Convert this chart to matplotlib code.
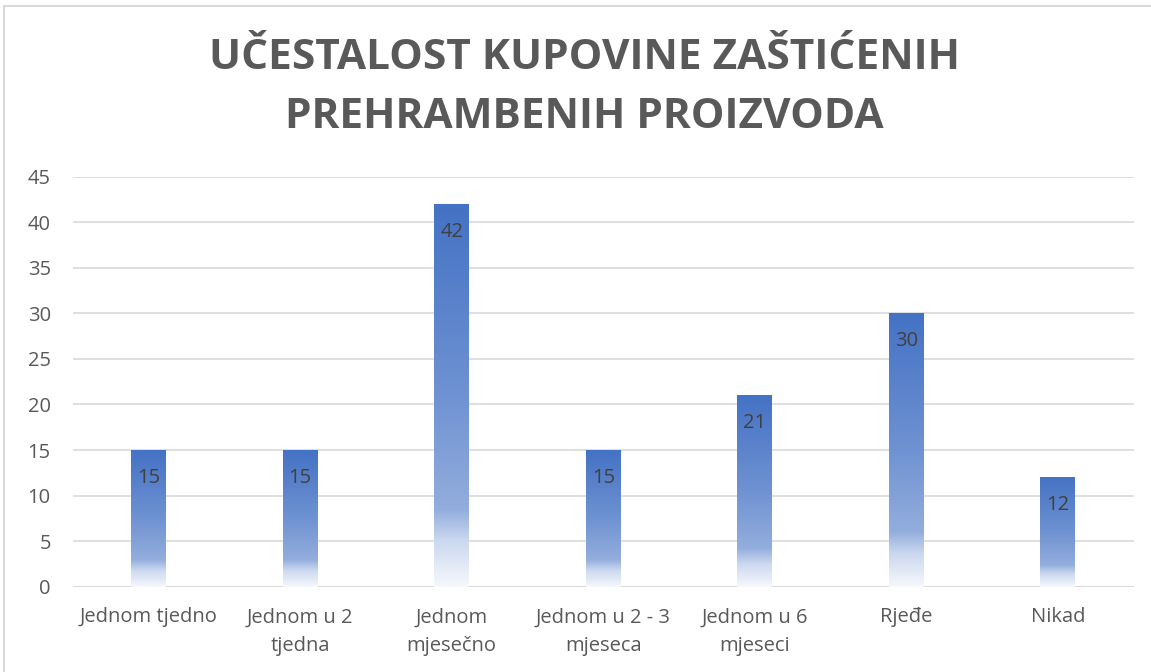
import matplotlib.pyplot as plt
import numpy as np
from matplotlib.colors import LinearSegmentedColormap
from matplotlib.patches import Rectangle

categories = ['Jednom tjedno', 'Jednom u 2\ntjedna', 'Jednom\nmjesečno', 'Jednom u 2 - 3\nmjeseca',
              'Jednom u 6\nmjeseci', 'Rjeđe', 'Nikad']
values = [15, 15, 42, 15, 21, 30, 12]
yticks = [0, 5, 10, 15, 20, 25, 30, 35, 40, 45]
title = 'UČESTALOST KUPOVINE ZAŠTIĆENIH\nPREHRAMBENIH PROIZVODA'

plt.rcParams['font.family'] = ['Open Sans', 'DejaVu Sans']

# gradient: bottom (0) -> top (1)
grad = LinearSegmentedColormap.from_list('bar', [
    (0.0, '#F6F8FC'), (0.12, '#CBD8EF'), (0.2, '#93AEDD'),
    (0.5, '#6F92D2'), (1.0, '#4472C4')])

fig = plt.figure(figsize=(11.51, 6.72), dpi=100)
ax = fig.add_axes([0.0634, 0.127, 0.9214, 0.61])

x = np.arange(len(categories))
w = 0.23

g = np.linspace(0, 1, 256).reshape(-1, 1)
for xi, v in zip(x, values):
    rect = Rectangle((xi - w / 2, 0), w, v, facecolor='none', edgecolor='none')
    ax.add_patch(rect)
    im = ax.imshow(g, cmap=grad, origin='lower', aspect='auto',
                   extent=(xi - w / 2, xi + w / 2, 0, v), zorder=2)
    im.set_clip_path(rect)
    ax.annotate(str(v), (xi, v), xytext=(0, -13), textcoords='offset points',
                ha='center', va='top', fontsize=14.5, color='#404040', zorder=3)

ax.set_xlim(-0.5, len(categories) - 0.5)
ax.set_ylim(0, 45)
ax.set_yticks(yticks)
ax.grid(axis='y', color='#D9D9D9', linewidth=1.2, zorder=0)
ax.set_axisbelow(True)
for s in ax.spines.values():
    s.set_visible(False)
ax.axhline(0, color='#D9D9D9', linewidth=1.5, zorder=1)
ax.set_xticks(x)
ax.set_xticklabels(categories, fontsize=14.5, color='#595959', linespacing=1.55)
ax.tick_params(axis='y', labelsize=14.5, labelcolor='#595959', length=0, pad=16)
ax.tick_params(axis='x', length=0, pad=15)

fig.text(0.508, 0.869, title, ha='center', va='center', fontsize=30.5, fontweight='bold',
         color='#595959', linespacing=1.6)

# chart border
fig.add_artist(Rectangle((0.0035, -0.01), 1.0, 1.0 - 0.0089 + 0.01, transform=fig.transFigure,
                         fill=False, edgecolor='#D9D9D9', linewidth=1.5))

fig.savefig('out.png', dpi=100)
